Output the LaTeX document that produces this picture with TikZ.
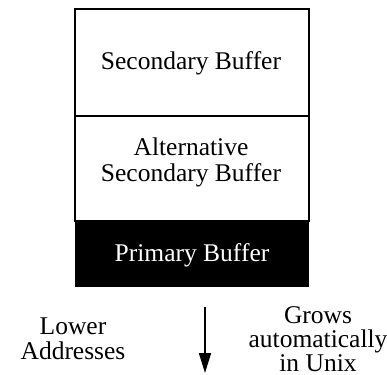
\documentclass[tikz,border=0pt]{standalone}
\usepackage{fontspec}
\setmainfont{Liberation Serif}
\usetikzlibrary{arrows.meta}
\begin{document}
\begin{tikzpicture}[x=1pt,y=-1pt,
  lbl/.style={font=\fontsize{25.5}{26}\selectfont, align=center, inner sep=0pt},
  cell/.style={draw=black, line width=1.3pt}]
\useasboundingbox (0,0) rectangle (387,374);
% stacked buffer regions
\draw[cell] (75,9) rectangle (309,116);
\draw[cell] (75,116) rectangle (309,221);
\fill[black] (75,221) rectangle (309,287);
\node[lbl] (sec) at (191,63) {Secondary Buffer};
\node[lbl] (alt) at (191,162) {Alternative\\Secondary Buffer};
\node[lbl, text=white] (pri) at (192,255) {Primary Buffer};
% growth direction
\coordinate (atop) at (205,307);
\coordinate (abot) at (205,373);
\draw[line width=1.6pt, -{Triangle[length=20pt,width=12pt]}] (atop) -- (abot);
\node[lbl, font=\fontsize{25.5}{25}\selectfont] (low) at (73,339) {Lower\\Addresses};
\node[lbl, font=\fontsize{25.5}{24}\selectfont] (grow) at (318,339) {Grows\\automatically\\in Unix};
\end{tikzpicture}
\end{document}
